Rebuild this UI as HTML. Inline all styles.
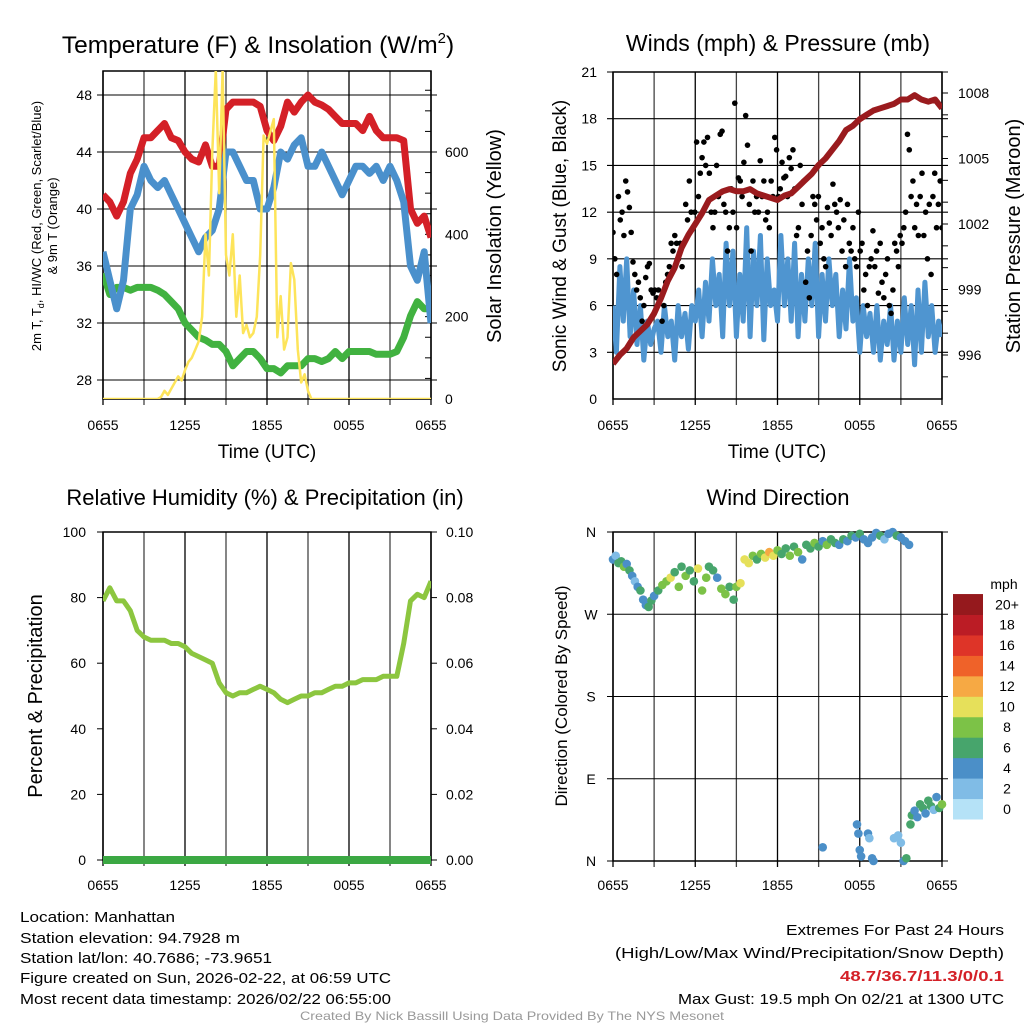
<!DOCTYPE html>
<html><head><meta charset="utf-8">
<style>
html,body{margin:0;padding:0;background:#fff;}
svg{display:block;font-family:"Liberation Sans",sans-serif;}
</style></head>
<body>
<svg id="c" width="1024" height="1024" viewBox="0 0 1024 1024"></svg>
<script>
// ---------- DATA ----------
const timeTicks = ["0655","1255","1855","0055","0655"];
const tempRed = [41,40.5,39.5,40.5,42.5,43.5,45,45,45.5,46,45,44.8,44,43.5,43.3,44.5,43,43,47,47.5,47.5,47.5,47.5,47.2,45.5,44.8,45.8,47.5,46.8,47.5,48,47.5,47.3,47,46.5,46,46,46,45.5,46.5,45.5,45,45,45,44.8,40,39,39.5,38];
const tempBlue = [37,35,33,35,40,41,43,42,41.5,42,41,40,39,38,37,38,38.5,40,44,44,43,42,42,40,40,41.5,44,43.5,44.5,45,43,43,44,43,42,41,42,43,43,42.5,43,42,43,42,40.5,36,35,37,32];
const tempGreen = [35.5,34,34.5,34.5,34.3,34.5,34.5,34.5,34.3,34,33.5,33,32,31.5,31,30.8,30.5,30.5,30,29,29.5,30,30,29.5,28.8,28.8,28.5,29,29,29,29.5,29.5,29.3,29.5,30,29.5,30,30,30,30,29.8,29.8,29.8,30,31,32.5,33.5,33,33];
const insolation = [0,0,0,0,0,0,0,0,0,0,0,0,0,0,0,0,0,5,20,10,25,40,55,45,70,90,100,120,140,200,400,300,600,800,500,800,350,300,400,200,300,160,180,150,160,200,350,640,620,650,680,150,250,120,150,330,290,120,40,60,20,0,0,0,0,0,0,0,0,0,0,0,0,0,0,0,0,0,0,0,0,0,0,0,0,0,0,0,0,0,0,0,0,0,0,0,0];
const windBlue = [6,3,8.5,5,9,4,7,3.5,6,2.5,5,3.5,4.5,5,3,6,4,5,2.5,6,4,5.5,3.2,6,5,7,4,7.5,5,9,6,8,4,10,6,9.5,4,8,5,11,4,9.5,6,10.5,3.8,9,6,7,5,10.5,6,9,5,10,4,8,5,9,6,10,4,8,5,9,6,8,4,7,4.5,9,5,6.5,3,6,4,5.5,3,6,2.5,5,3.5,6,2.5,5,3,6.5,3.5,6,2.2,7,3,7.5,4,6,3,5,4];
const windGust = [10.7,9,8,13,11.5,12,10.5,14,13.3,12.3,10.7,8.8,8,7,7.5,6.5,5,6,7.8,8.5,8.7,7,6.8,7,6.5,7,6.5,5,6,7.5,8,8.5,10,9.5,10.5,10,9,10,8.5,10,12.5,11.5,14,12,11,12,16.5,13,14.5,15.5,16.5,15,16.8,14.5,12,11,12,15,13,17,17.2,12.5,12,9.5,11,13.5,12,19,11,14.2,14,13,15.2,18.2,16.3,12.5,9.5,14,12,13,12,15.3,13,14,11.5,12,11,14,13,16.8,16,13,13.5,15.2,14.2,14.3,13,15.5,14.8,16,13.5,10.5,11,15,12.5,14,7.5,9.5,6.5,10.5,13,12.5,11.5,13,10,11,9,8.5,12.3,11.3,10.5,13.8,12.5,12,11,12.8,9.5,11.5,8.5,12.5,10,9.5,11,9,8.5,12,9.5,10,7,8,6,8.5,9,10.8,8.5,9.5,6.8,10,7.5,6.5,8,9,6,5.5,7,10,9.5,8.5,10.5,10,11,12,17,16,13,14,11,12.5,10.5,13,14.5,10.5,12,9,12.5,8,13,14.5,11,12.5,14,11];
const pressure = [995.6,996.0,996.3,996.8,997.1,997.4,997.9,998.6,999.4,1000.0,1000.9,1001.5,1002.0,1002.5,1003.1,1003.3,1003.5,1003.6,1003.5,1003.5,1003.6,1003.4,1003.3,1003.2,1003.1,1003.3,1003.4,1003.7,1004.0,1004.3,1004.7,1005.0,1005.4,1005.8,1006.3,1006.5,1006.8,1007.0,1007.2,1007.3,1007.4,1007.5,1007.7,1007.7,1007.9,1007.7,1007.6,1007.7,1007.3];
const rhValues = [79,83,79,79,76,70,68,67,67,67,66,66,65,63,62,61,60,54,51,50,51,51,52,53,52,51,49,48,49,50,50,51,51,52,53,53,54,54,55,55,55,56,56,56,66,79,81,80,85];
const precipValues = [0,0,0,0,0,0,0,0,0,0,0,0,0,0,0,0,0,0,0,0,0,0,0,0,0,0,0,0,0,0,0,0,0,0,0,0,0,0,0,0,0,0,0,0,0,0,0,0,0];
const dirHours = [0,0.2,0.4,0.6,0.8,1,1.2,1.4,1.6,1.8,2,2.2,2.4,2.6,2.8,3,3.3,3.6,3.9,4.2,4.5,4.8,5,5.3,5.6,5.9,6.2,6.5,6.8,7,7.3,7.6,7.9,8.2,8.5,8.8,9,9.3,9.6,9.9,10.2,10.5,10.8,11.1,11.4,11.7,12,12.3,12.6,12.9,13.2,13.5,13.8,14.1,14.4,14.7,15,15.3,15.6,15.9,16.2,16.5,16.8,17.1,17.4,17.7,18,18.3,18.6,18.9,19.2,19.5,19.8,20.1,20.4,20.7,21,21.3,21.6,15.3,17.8,17.9,18.0,18.1,18.6,18.7,18.9,19.0,20.5,20.8,21.0,21.2,21.4,21.7,21.8,22.0,22.2,22.4,22.6,22.8,23.0,23.2,23.4,23.6,23.8,24];
const dirDegrees = [330,334,326,328,322,325,318,312,306,300,296,286,280,278,285,290,296,302,306,310,316,300,322,312,318,306,320,296,310,322,318,310,298,292,300,286,300,304,330,326,334,330,336,332,338,334,340,336,342,334,344,338,330,346,342,348,344,350,346,352,348,346,352,350,356,354,358,352,348,354,359,356,352,358,360,356,354,350,346,15,40,30,12,5,30,25,3,0,25,28,20,0,3,40,50,55,48,62,58,52,66,60,56,70,58,62];
const dirSpeeds = [5,3,7,6,9,5,7,5,3,5,7,4,5,7,6,5,7,9,8,10,6,8,7,9,6,7,11,8,9,7,7,5,9,8,7,7,9,10,11,10,9,7,8,11,12,10,9,7,6,8,7,9,5,7,6,9,7,5,8,7,6,5,7,5,6,5,7,5,4,5,4,6,3,5,4,6,5,4,5,5,5,4,5,4,5,3,5,4,3,2,3,5,6,6,7,5,4,6,7,5,6,7,3,5,6,8];
const speedBins = ["0","2","4","6","8","10","12","14","16","18","20+"];
const speedColors = ["#b5e2f7","#80bce6","#4b8fc8","#47a56c","#7cc247","#e6e05a","#f6a944","#ef6229","#de3428","#bb1c25","#95191d"];

// ---------- HELPERS ----------
const NS="http://www.w3.org/2000/svg";
const svg=document.getElementById('c');
function mk(tag,attrs,parent){const e=document.createElementNS(NS,tag);for(const k in attrs)e.setAttribute(k,attrs[k]);(parent||svg).appendChild(e);return e;}
function txt(s,x,y,size,anchor,parent,extra){const e=mk('text',Object.assign({x:x,y:y,'font-size':size,'text-anchor':anchor||'middle',fill:'#000'},extra||{}),parent);e.textContent=s;return e;}
function linX(x0,x1,d0,d1){return v=>x0+(v-d0)/(d1-d0)*(x1-x0);}
function pathFrom(xs,ys){let d='';for(let i=0;i<xs.length;i++)d+=(i?'L':'M')+xs[i].toFixed(1)+','+ys[i].toFixed(1);return d;}

function frame(g,L,R,T,B,hVals,yf,xLabY){
  for(let k=0;k<=8;k++){const x=L+k*(R-L)/8;
    const l=mk('line',{x1:x,x2:x,y1:T,y2:B+6,stroke:k%2?'#444':'#000','stroke-width':1.3},g);
    
    }
  hVals.forEach(v=>{const y=yf(v);const l=mk('line',{x1:L-6,x2:R+6,y1:y,y2:y,stroke:'#000','stroke-width':1.1},g);
    
    });
  const r=mk('rect',{x:L,y:T,width:R-L,height:B-T,fill:'none',stroke:'#000','stroke-width':1.5},g);
  
  
  timeTicks.forEach((t,i)=>{const e=txt(t,L+i*(R-L)/4,xLabY,14,'middle',g);
    
    });
}

// ---------- PANEL 1: Temperature ----------
(function(){
  const g=mk('g',{});
  
  
  const L=103,R=431,T=71,B=399;
  const ty=linX(380,95,28,48), iy=linX(399,152,0,600);
  const cp=mk('clipPath',{id:'cp1'},g);mk('rect',{x:L,y:T,width:R-L,height:B-T},cp);
  frame(g,L,R,T,B,[28,32,36,40,44,48],ty,430);
  [28,32,36,40,44,48].forEach(v=>{const e=txt(String(v),92,ty(v)+5,14,'end',g);
    
    });
  [0,200,400,600].forEach(v=>{const e=txt(String(v),445,iy(v)+5,14,'start',g);
    
    });
  for(let v=0;v<=800;v+=50){const y=iy(v);if(y<T)break;mk('line',{x1:R-6,x2:R,y1:y,y2:y,stroke:'#000'},g);}
  const pg=mk('g',{'clip-path':'url(#cp1)'},g);
  function series(arr,f,col,w,name){const xs=arr.map((_,i)=>L+i*(R-L)/(arr.length-1));
    const p=mk('path',{d:pathFrom(xs,arr.map(f)),fill:'none',stroke:col,'stroke-width':w,'stroke-linejoin':'round'},pg);
    
    }
  series(tempRed,ty,'#d42027',7,'temperature-line-red');
  series(tempGreen,ty,'#41b240',7,'dewpoint-line-green');
  series(tempBlue,ty,'#4a90cc',7,'heat-index-line-blue');
  series(insolation,iy,'#fde45a',2.5,'insolation-line-yellow');
  const t=txt('Temperature (F) & Insolation (W/m',258,53,24.5,'middle',g);
  
  
  const ts=mk('tspan',{'font-size':15,dy:-10},t);ts.textContent='2';
  const ts2=mk('tspan',{dy:10},t);ts2.textContent=')';
  const a=txt('2m T, T',0,0,13,'middle',g,{transform:'translate(41,226) rotate(-90)'});
  
  
  const s1=mk('tspan',{'font-size':9,dy:3},a);s1.textContent='d';
  const s2=mk('tspan',{dy:-3},a);s2.textContent=', HI/WC (Red, Green, Scarlet/Blue)';
  const a2=txt('& 9m T (Orange)',0,0,13,'middle',g,{transform:'translate(57,226) rotate(-90)'});
  
  
  const r=txt('Solar Insolation (Yellow)',0,0,20,'middle',g,{transform:'translate(501,236) rotate(-90)'});
  
  
  const x=txt('Time (UTC)',267,458,19,'middle',g);
  
  
})();

// ---------- PANEL 2: Winds ----------
(function(){
  const g=mk('g',{});
  
  
  const L=613,R=942,T=72,B=399;
  const wy=linX(399,72,0,21), py=linX(355,93,996,1008);
  const cp=mk('clipPath',{id:'cp2'},g);mk('rect',{x:L,y:T,width:R-L,height:B-T},cp);
  frame(g,L,R,T,B,[3,6,9,12,15,18,21],wy,430);
  [0,3,6,9,12,15,18,21].forEach(v=>{const e=txt(String(v),597,wy(v)+5,14,'end',g);
    
    });
  [996,999,1002,1005,1008].forEach(v=>{const e=txt(String(v),958,py(v)+5,14,'start',g);
    
    });
  for(let v=995;v<=1009;v++){const y=py(v);if(y<T||y>B)continue;mk('line',{x1:R-(v%3?0:-6),x2:R+(v%3?6:0),y1:y,y2:y,stroke:'#000'},g);}
  const pg=mk('g',{'clip-path':'url(#cp2)'},g);
  const bx=windBlue.map((_,i)=>L+i*(R-L)/(windBlue.length-1));
  const bl=mk('path',{d:pathFrom(bx,windBlue.map(wy)),fill:'none',stroke:'#4f95d0','stroke-width':5,'stroke-linejoin':'round'},pg);
  
  
  windGust.forEach((v,i)=>{const c=mk('circle',{cx:L+i*(R-L)/(windGust.length-1),cy:wy(v),r:2.8,fill:'#000'},pg);
    
    });
  const px=pressure.map((_,i)=>L+i*(R-L)/(pressure.length-1));
  const pl=mk('path',{d:pathFrom(px,pressure.map(py)),fill:'none',stroke:'#9a1b1e','stroke-width':6,'stroke-linejoin':'round'},pg);
  
  
  const t=txt('Winds (mph) & Pressure (mb)',778,51,23,'middle',g);
  
  
  const a=txt('Sonic Wind & Gust (Blue, Black)',0,0,19,'middle',g,{transform:'translate(566,236) rotate(-90)'});
  
  
  const r=txt('Station Pressure (Maroon)',0,0,20,'middle',g,{transform:'translate(1020,236) rotate(-90)'});
  
  
  const x=txt('Time (UTC)',777,458,19,'middle',g);
  
  
})();

// ---------- PANEL 3: RH ----------
(function(){
  const g=mk('g',{});
  
  
  const L=103,R=431,T=532,B=860;
  const hy=linX(860,532,0,100), qy=linX(860,532,0,0.10);
  const cp=mk('clipPath',{id:'cp3'},g);mk('rect',{x:L,y:T-5,width:R-L,height:B-T+10},cp);
  frame(g,L,R,T,B,[],hy,890);
  [0,20,40,60,80,100].forEach(v=>{const e=txt(String(v),86,hy(v)+5,14,'end',g);
    
    
    mk('line',{x1:L-6,x2:L,y1:hy(v),y2:hy(v),stroke:'#000'},g);});
  [0,0.02,0.04,0.06,0.08,0.10].forEach(v=>{const e=txt(v.toFixed(2),446,qy(v)+5,14,'start',g);
    
    
    mk('line',{x1:R,x2:R+6,y1:qy(v),y2:qy(v),stroke:'#000'},g);});
  const pg=mk('g',{'clip-path':'url(#cp3)'},g);
  const rx=rhValues.map((_,i)=>L+i*(R-L)/(rhValues.length-1));
  const rl=mk('path',{d:pathFrom(rx,rhValues.map(hy)),fill:'none',stroke:'#8cc63f','stroke-width':5,'stroke-linejoin':'round'},pg);
  
  
  const qx=precipValues.map((_,i)=>L+i*(R-L)/(precipValues.length-1));
  const ql=mk('path',{d:pathFrom(qx,precipValues.map(qy)),fill:'none',stroke:'#3ba843','stroke-width':8},pg);
  
  
  const t=txt('Relative Humidity (%) & Precipitation (in)',265,505,22,'middle',g);
  
  
  const a=txt('Percent & Precipitation',0,0,20,'middle',g,{transform:'translate(42,696) rotate(-90)'});
  
  
})();

// ---------- PANEL 4: Wind direction ----------
(function(){
  const g=mk('g',{});
  
  
  const L=613,R=942,T=532,B=861;
  const dy=linX(861,532,0,360), dx=linX(L,R,0,24);
  frame(g,L,R,T,B,[0,90,180,270,360],dy,890);
  [['N',0],['E',90],['S',180],['W',270],['N',360]].forEach(p=>{const e=txt(p[0],591,dy(p[1])+5,14,'middle',g);
    
    });
  dirDegrees.forEach((d,i)=>{const s=dirSpeeds[i];const bi=Math.min(10,Math.floor(s/2));
    const c=mk('circle',{cx:dx(dirHours[i]),cy:dy(d),r:4.3,fill:speedColors[bi]},g);
    
    });
  const cb=mk('g',{},g);
  
  
  const h=20.45;
  speedBins.forEach((lab,i)=>{const y=819-(i+1)*h;
    const r=mk('rect',{x:953,y:y,width:30,height:h+0.5,fill:speedColors[i]},cb);
    
    
    const e=txt(lab,1007,y+h/2+5,14,'middle',cb);
    
    });
  const m=txt('mph',1004,589,14,'middle',cb);
  
  
  const t=txt('Wind Direction',778,505,22,'middle',g);
  
  
  const a=txt('Direction (Colored By Speed)',0,0,17,'middle',g,{transform:'translate(567,696) rotate(-90)'});
  
  
})();

// ---------- FOOTER TEXT ----------
(function(){
  const lines=[["Location: Manhattan",922,155],["Station elevation: 94.7928 m",943,220],["Station lat/lon: 40.7686; -73.9651",963,252],["Figure created on Sun, 2026-02-22, at 06:59 UTC",983,371],["Most recent data timestamp: 2026/02/22 06:55:00",1004,371]];
  lines.forEach(l=>{const e=txt(l[0],20,l[1],15,'start',null,{textLength:l[2],lengthAdjust:'spacingAndGlyphs'});
    
    });
  const rl=[["Extremes For Past 24 Hours",935,218,'#000','normal'],["(High/Low/Max Wind/Precipitation/Snow Depth)",958,389,'#000','normal'],["48.7/36.7/11.3/0/0.1",981,164,'#d42027','bold'],["Max Gust: 19.5 mph On 02/21 at 1300 UTC",1004,326,'#000','normal']];
  rl.forEach(l=>{const e=txt(l[0],1004-l[2],l[1],15,'start',null,{textLength:l[2],lengthAdjust:'spacingAndGlyphs',fill:l[3],'font-weight':l[4]});
    
    });
  const f=txt('Created By Nick Bassill Using Data Provided By The NYS Mesonet',512,1020,12,'middle',null,{fill:'#999',textLength:424,lengthAdjust:'spacingAndGlyphs'});
  
  
})();
</script>
</body></html>
